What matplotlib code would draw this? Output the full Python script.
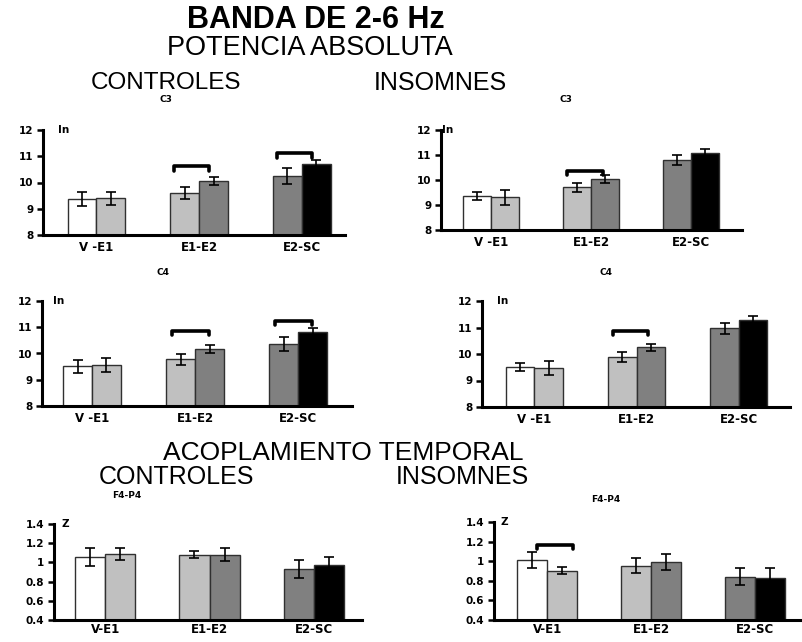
import matplotlib
matplotlib.use('Agg')
import matplotlib.pyplot as plt
from matplotlib.ticker import FuncFormatter

# --- data -------------------------------------------------------------
groups_top = ['V -E1', 'E1-E2', 'E2-SC']
groups_bottom = ['V-E1', 'E1-E2', 'E2-SC']

# potencia absoluta (ln), C3
c3_ctrl_a = [9.37, 9.61, 10.25]
c3_ctrl_a_err = [0.25, 0.22, 0.30]
c3_ctrl_b = [9.40, 10.06, 10.69]
c3_ctrl_b_err = [0.25, 0.14, 0.17]

c3_ins_a = [9.36, 9.71, 10.80]
c3_ins_a_err = [0.18, 0.18, 0.20]
c3_ins_b = [9.30, 10.04, 11.07]
c3_ins_b_err = [0.29, 0.18, 0.17]

# potencia absoluta (ln), C4
c4_ctrl_a = [9.52, 9.78, 10.36]
c4_ctrl_a_err = [0.25, 0.20, 0.26]
c4_ctrl_b = [9.56, 10.17, 10.83]
c4_ctrl_b_err = [0.25, 0.15, 0.15]

c4_ins_a = [9.51, 9.89, 10.97]
c4_ins_a_err = [0.16, 0.18, 0.20]
c4_ins_b = [9.48, 10.25, 11.28]
c4_ins_b_err = [0.27, 0.14, 0.16]

# acoplamiento temporal (z), F4-P4
f4p4_ctrl_a = [1.06, 1.08, 0.93]
f4p4_ctrl_a_err = [0.095, 0.037, 0.09]
f4p4_ctrl_b = [1.09, 1.08, 0.97]
f4p4_ctrl_b_err = [0.065, 0.068, 0.087]

f4p4_ins_a = [1.01, 0.955, 0.84]
f4p4_ins_a_err = [0.08, 0.077, 0.087]
f4p4_ins_b = [0.905, 0.995, 0.83]
f4p4_ins_b_err = [0.04, 0.083, 0.10]

# significant differences: (group index, bracket height)
sig_c3_ctrl = [(1, 10.63), (2, 11.11)]
sig_c3_ins = [(1, 10.37)]
sig_c4_ctrl = [(1, 10.87), (2, 11.25)]
sig_c4_ins = [(1, 10.88)]
sig_f4p4_ctrl = []
sig_f4p4_ins = [(0, 1.17)]

ln_ticks = [8, 9, 10, 11, 12]
z_ticks = [0.4, 0.6, 0.8, 1.0, 1.2, 1.4]

# fill colours of the pair in each group
left_colors = ['white', '#c0c0c0', '#808080']
right_colors = ['#c0c0c0', '#808080', 'black']

# --- figure -----------------------------------------------------------
W, H = 802, 642
fig = plt.figure(figsize=(W / 100, H / 100), dpi=100)

TITLE_FONT = 'Liberation Sans'
AX_FONT = 'DejaVu Sans'


def px_axes(x0, y0, x1, y1):
    return fig.add_axes([x0 / W, 1 - y1 / H, (x1 - x0) / W, (y1 - y0) / H])


def draw_panel(box, xlim, labels, a, a_err, b, b_err, sig, ticks, unit,
               unit_dx, bracket_span, width=0.28, xpad=4):
    ax = px_axes(*box)
    x = range(len(a))
    xa = [i - width / 2 for i in x]
    xb = [i + width / 2 for i in x]
    ax.bar(xa, a, width, bottom=0, color=left_colors, edgecolor='#303030',
           linewidth=1.0, zorder=2)
    ax.bar(xb, b, width, color=right_colors, edgecolor='#303030',
           linewidth=1.0, zorder=2)
    ax.errorbar(xa, a, yerr=a_err, fmt='none', ecolor='black',
                elinewidth=1.2, capsize=3.5, capthick=1.2, zorder=3)
    ax.errorbar(xb, b, yerr=b_err, fmt='none', ecolor='black',
                elinewidth=1.2, capsize=3.5, capthick=1.2, zorder=3)

    ymin, ymax = ticks[0], ticks[-1]
    hook = 0.045 * (ymax - ymin)
    lo, hi = bracket_span
    for g, yb in sig:
        x0 = g + lo * width
        x1 = g + hi * width
        ax.plot([x0, x0, x1, x1], [yb - hook, yb, yb, yb - hook],
                color='black', lw=2.6, solid_joinstyle='round',
                solid_capstyle='round', zorder=4)

    ax.set_xlim(*xlim)
    ax.set_ylim(ymin, ymax)
    ax.set_yticks(ticks)
    ax.yaxis.set_major_formatter(FuncFormatter(lambda v, p: f'{v:g}'))
    ax.set_xticks(list(x))
    ax.set_xticklabels(labels)
    for s in ['top', 'right']:
        ax.spines[s].set_visible(False)
    for s in ['left', 'bottom']:
        ax.spines[s].set_linewidth(2.2)
    ax.tick_params(axis='y', direction='out', length=4, width=1.8, pad=3)
    ax.tick_params(axis='x', length=0, pad=xpad)
    for t in ax.get_yticklabels():
        t.set_fontfamily(AX_FONT)
        t.set_fontweight('bold')
        t.set_fontsize(7.5)
    for t in ax.get_xticklabels():
        t.set_fontfamily(AX_FONT)
        t.set_fontweight('bold')
        t.set_fontsize(8.5)
    ax.annotate(unit, xy=(0, ymax), xycoords=('axes fraction', 'data'),
                xytext=(unit_dx, 0), textcoords='offset pixels',
                ha='left', va='center', fontsize=7.5, fontweight='bold',
                family=AX_FONT)
    ax.patch.set_alpha(0)
    return ax


draw_panel((43, 130, 345, 235), (-0.52, 2.42), groups_top,
           c3_ctrl_a, c3_ctrl_a_err, c3_ctrl_b, c3_ctrl_b_err,
           sig_c3_ctrl, ln_ticks, 'In', 15, (-0.88, 0.35))
draw_panel((441, 130, 742, 230), (-0.50, 2.51), groups_top,
           c3_ins_a, c3_ins_a_err, c3_ins_b, c3_ins_b_err,
           sig_c3_ins, ln_ticks, 'In', 1, (-0.86, 0.43))
draw_panel((42, 301, 352, 406), (-0.485, 2.52), groups_top,
           c4_ctrl_a, c4_ctrl_a_err, c4_ctrl_b, c4_ctrl_b_err,
           sig_c4_ctrl, ln_ticks, 'In', 11, (-0.8, 0.48))
draw_panel((482, 301, 790, 407), (-0.51, 2.50), groups_top,
           c4_ins_a, c4_ins_a_err, c4_ins_b, c4_ins_b_err,
           sig_c4_ins, ln_ticks, 'In', 15, (-0.83, 0.41))
draw_panel((54, 524, 362, 620), (-0.49, 2.46), groups_bottom,
           f4p4_ctrl_a, f4p4_ctrl_a_err, f4p4_ctrl_b, f4p4_ctrl_b_err,
           sig_f4p4_ctrl, z_ticks, 'Z', 8, (-0.33, 0.87), width=0.29,
           xpad=2)
draw_panel((494, 522, 802, 620), (-0.51, 2.45), groups_bottom,
           f4p4_ins_a, f4p4_ins_a_err, f4p4_ins_b, f4p4_ins_b_err,
           sig_f4p4_ins, z_ticks, 'Z', 6, (-0.33, 0.87), width=0.29,
           xpad=2)


def ftext(x, y, s, size, weight='normal', family=TITLE_FONT):
    fig.text(x / W, 1 - y / H, s, ha='center', va='center', fontsize=size,
             fontweight=weight, family=family)


ftext(316, 20, 'BANDA DE 2-6 Hz', 22, 'bold')
ftext(310, 48, 'POTENCIA ABSOLUTA', 19.5)
ftext(166, 83, 'CONTROLES', 17.5)
ftext(440, 83, 'INSOMNES', 18)
ftext(166, 100, 'C3', 6.5, 'bold', AX_FONT)
ftext(566, 99, 'C3', 6.5, 'bold', AX_FONT)
ftext(163, 272, 'C4', 6.5, 'bold', AX_FONT)
ftext(606, 272, 'C4', 6.5, 'bold', AX_FONT)

ftext(343, 453, 'ACOPLAMIENTO TEMPORAL', 19)
ftext(177, 477, 'CONTROLES', 18)
ftext(462, 477, 'INSOMNES', 18)
ftext(127, 496, 'F4-P4', 6.5, 'bold', AX_FONT)
ftext(606, 500, 'F4-P4', 6.5, 'bold', AX_FONT)

fig.savefig('out.png', dpi=100)
